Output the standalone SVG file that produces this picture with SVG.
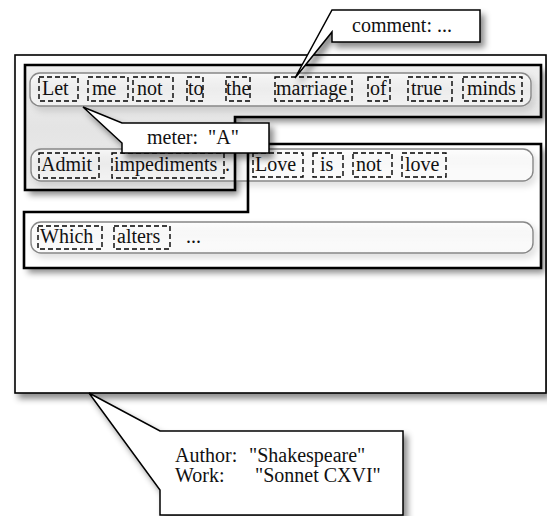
<svg xmlns="http://www.w3.org/2000/svg" width="547" height="516" viewBox="0 0 547 516">
<defs>
<filter id="sh" x="-10%" y="-10%" width="130%" height="140%">
<feDropShadow dx="4" dy="5" stdDeviation="3" flood-color="#000" flood-opacity="0.45"/>
</filter>
<filter id="shs" x="-10%" y="-20%" width="130%" height="160%">
<feDropShadow dx="3" dy="4" stdDeviation="3" flood-color="#000" flood-opacity="0.2"/>
</filter>
<linearGradient id="g1" x1="0" y1="0" x2="0" y2="1">
<stop offset="0" stop-color="#efefef"/>
<stop offset="0.5" stop-color="#e4e4e4"/>
<stop offset="1" stop-color="#ececec"/>
</linearGradient>
<linearGradient id="gr" x1="0" y1="0" x2="0" y2="1">
<stop offset="0" stop-color="#ffffff" stop-opacity="0.7"/>
<stop offset="0.5" stop-color="#ffffff" stop-opacity="0.35"/>
<stop offset="1" stop-color="#ffffff" stop-opacity="0.6"/>
</linearGradient>
</defs>
<style>
text{font-family:'Liberation Serif','DejaVu Serif',serif;font-size:20px;fill:#111;white-space:pre}
.outer{fill:#fff;stroke:#000;stroke-width:1.6}
.block{stroke:#000;stroke-width:2.6;stroke-linejoin:miter}
.row{fill:url(#gr);stroke:#888;stroke-width:1.4}
.w{fill:none;stroke:#000;stroke-width:1.4;stroke-dasharray:5 3}
.call{fill:#fff;stroke:#000;stroke-width:1.5;stroke-linejoin:miter}
</style>

<g id="document">
<rect class="outer" x="15" y="55" width="531" height="338" filter="url(#sh)"/>
</g>

<g id="sentence1-fill">
<path d="M25,65 H541 V117 H235 V190 H25 Z" fill="url(#g1)" filter="url(#sh)"/>
</g>
<g id="sentence2-fill">
<path d="M248,144 H541 V268 H24 V212 H248 Z" fill="#fff" filter="url(#sh)"/>
</g>

<g id="line1">
<rect class="row" x="30" y="73" width="501" height="33" rx="10" filter="url(#shs)"/>
</g>
<g id="line2">
<rect class="row" x="31" y="149" width="502" height="32" rx="10" filter="url(#shs)"/>
</g>
<g id="line3">
<rect class="row" x="31" y="222" width="502" height="31" rx="10" filter="url(#shs)"/>
</g>

<g id="sentence1">
<path class="block" fill="none" d="M25,65 H541 V117 H235 V190 H25 Z"/>
</g>
<g id="sentence2">
<path class="block" fill="none" d="M248,144 H541 V268 H24 V212 H248 Z"/>
</g>

<g id="words-line1" font-family="Liberation Serif, serif">
<g id="w-let"><rect class="w" x="39" y="77" width="39" height="24"/><text x="42" y="95">Let</text></g>
<g id="w-me"><rect class="w" x="88" y="77" width="40" height="24"/><text x="92" y="95">me</text></g>
<g id="w-not"><rect class="w" x="133" y="77" width="40" height="24"/><text x="137" y="95">not</text></g>
<g id="w-to"><rect class="w" x="187" y="77" width="16" height="24"/><text x="188" y="95">to</text></g>
<g id="w-the"><rect class="w" x="226" y="77" width="24" height="24"/><text x="226" y="95">the</text></g>
<g id="w-marriage"><rect class="w" x="275" y="77" width="77" height="24"/><text x="276" y="95">marriage</text></g>
<g id="w-of"><rect class="w" x="368" y="77" width="22" height="24"/><text x="370" y="95">of</text></g>
<g id="w-true"><rect class="w" x="408" y="77" width="44" height="24"/><text x="411" y="95">true</text></g>
<g id="w-minds"><rect class="w" x="463" y="77" width="59" height="24"/><text x="467" y="95">minds</text></g>
</g>

<g id="words-line2">
<g id="w-admit"><rect class="w" x="39" y="153" width="60" height="25"/><text x="41" y="171">Admit</text></g>
<g id="w-impediments"><rect class="w" x="112" y="153" width="112" height="25"/><text x="114" y="171">impediments</text></g>
<text x="225" y="171">.</text>
<g id="w-love1"><rect class="w" x="253" y="153" width="50" height="24"/><text x="255" y="171">Love</text></g>
<g id="w-is"><rect class="w" x="313" y="153" width="30" height="24"/><text x="320" y="171">is</text></g>
<g id="w-not2"><rect class="w" x="353" y="153" width="39" height="24"/><text x="356" y="171">not</text></g>
<g id="w-love2"><rect class="w" x="402" y="153" width="44" height="24"/><text x="405" y="171">love</text></g>
</g>

<g id="words-line3">
<g id="w-which"><rect class="w" x="38" y="226" width="64" height="23"/><text x="40" y="243">Which</text></g>
<g id="w-alters"><rect class="w" x="114" y="226" width="56" height="23"/><text x="117" y="243">alters</text></g>
<text x="186" y="243">...</text>
</g>

<g id="comment-note">
<path class="call" d="M332,10 H480 V42 H332 V32 L295,78 Z" filter="url(#sh)"/>
<text x="352" y="32">comment: ...</text>
</g>
<g id="meter-note">
<path class="call" d="M122,123 H269 V153 H122 V143 L83,107 Z" filter="url(#sh)"/>
<text x="147" y="144">meter:  "A"</text>
</g>
<g id="author-note">
<path class="call" d="M160,431 H403 V515 H160 V490 L89,393 Z" filter="url(#sh)"/>
<text x="175" y="462">Author:</text>
<text x="249" y="462">"Shakespeare"</text>
<text x="175" y="482">Work:</text>
<text x="255" y="482">"Sonnet CXVI"</text>
</g>
</svg>
